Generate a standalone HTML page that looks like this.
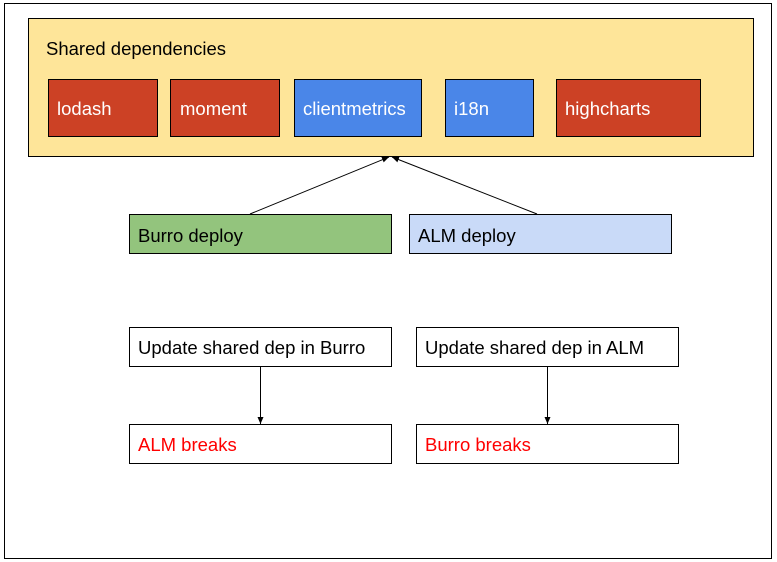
<!DOCTYPE html>
<html><head><meta charset="utf-8"><style>
html,body{margin:0;padding:0;background:#fff;width:777px;height:562px;overflow:hidden}
svg text{font-family:"Liberation Sans",Arial,sans-serif;font-size:18.5px}
</style></head><body>
<svg width="777" height="562" xmlns="http://www.w3.org/2000/svg">
<defs><marker id="a" markerWidth="8" markerHeight="8" refX="7" refY="4" orient="auto" markerUnits="userSpaceOnUse"><path d="M0,1 L7,4 L0,7 z" fill="#000"/></marker></defs>
<rect x="4.5" y="3.5" width="767" height="555" fill="#fff" stroke="#000"/>
<rect x="28.5" y="18.5" width="725" height="138" fill="#fee599" stroke="#000"/>
<text x="46" y="55" fill="#000">Shared dependencies</text>
<rect x="48.5" y="79.5" width="109" height="57" fill="#cc4125" stroke="#000"/>
<text x="57" y="115" fill="#fff">lodash</text>
<rect x="170.5" y="79.5" width="109" height="57" fill="#cc4125" stroke="#000"/>
<text x="180" y="115" fill="#fff">moment</text>
<rect x="294.5" y="79.5" width="127" height="57" fill="#4a86e8" stroke="#000"/>
<text x="303" y="115" fill="#fff">clientmetrics</text>
<rect x="445.5" y="79.5" width="88" height="57" fill="#4a86e8" stroke="#000"/>
<text x="454" y="115" fill="#fff">i18n</text>
<rect x="556.5" y="79.5" width="144" height="57" fill="#cc4125" stroke="#000"/>
<text x="565" y="115" fill="#fff">highcharts</text>
<rect x="129.5" y="214.5" width="262" height="39" fill="#93c47d" stroke="#000"/>
<text x="138" y="242" fill="#000">Burro deploy</text>
<rect x="409.5" y="214.5" width="262" height="39" fill="#c9daf8" stroke="#000"/>
<text x="418" y="242" fill="#000">ALM deploy</text>
<rect x="129.5" y="327.5" width="262" height="39" fill="#fff" stroke="#000"/>
<text x="138" y="354" fill="#000">Update shared dep in Burro</text>
<rect x="416.5" y="327.5" width="262" height="39" fill="#fff" stroke="#000"/>
<text x="425" y="354" fill="#000">Update shared dep in ALM</text>
<rect x="129.5" y="424.5" width="262" height="39" fill="#fff" stroke="#000"/>
<text x="138" y="451" fill="#ff0000">ALM breaks</text>
<rect x="416.5" y="424.5" width="262" height="39" fill="#fff" stroke="#000"/>
<text x="425" y="451" fill="#ff0000">Burro breaks</text>
<line x1="250" y1="214" x2="389" y2="157" stroke="#000" marker-end="url(#a)"/>
<line x1="537" y1="214" x2="392" y2="157" stroke="#000" marker-end="url(#a)"/>
<line x1="260.5" y1="367" x2="260.5" y2="424" stroke="#000" marker-end="url(#a)"/>
<line x1="547.5" y1="367" x2="547.5" y2="424" stroke="#000" marker-end="url(#a)"/>
</svg>
</body></html>
